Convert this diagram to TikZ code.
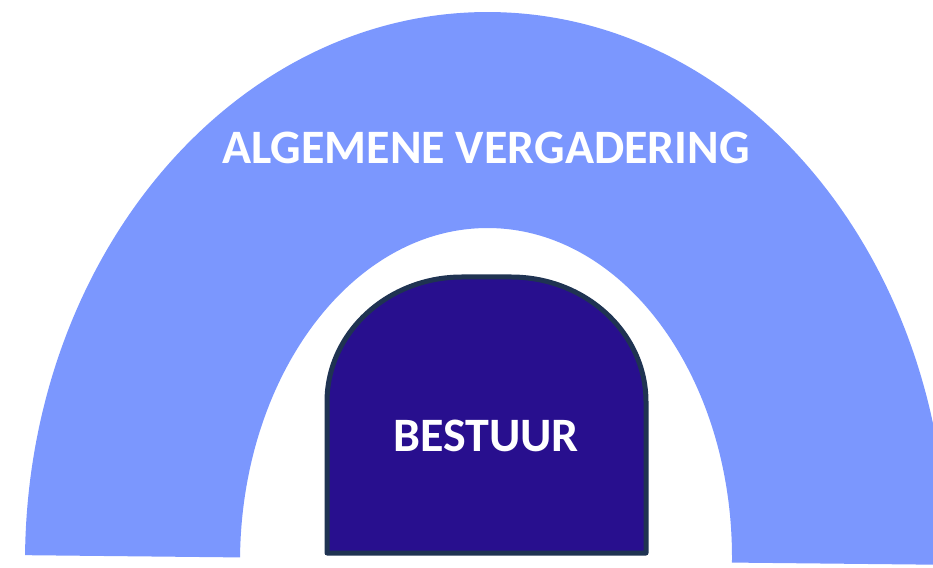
\documentclass[tikz,border=0pt]{standalone}
\usepackage{fontspec}
\setmainfont{Carlito}
\definecolor{avblue}{HTML}{7B97FE}
\definecolor{bpurple}{HTML}{280F8E}
\definecolor{bborder}{HTML}{1F3352}
\tikzset{
  lbl/.style={text=white, font=\fontsize{48}{52}\selectfont\bfseries, inner sep=0pt, anchor=base},
}
\begin{document}
\begin{tikzpicture}[x=1pt,y=1pt]
\useasboundingbox (0,0) rectangle (933,567);
\clip (0,0) rectangle (933,567);
\coordinate (c) at (486,7);
% block arc
\fill[avblue, rotate around={-0.6:(c)}]
  (25,7) arc[start angle=180, end angle=0, x radius=461, y radius=548]
  -- (732,7) arc[start angle=0, end angle=180, x radius=246, y radius=332]
  -- cycle;
% bestuur shape
\filldraw[fill=bpurple, draw=bborder, line width=5pt, line join=round]
  (327,14) -- (327,165)
  arc[start angle=180, end angle=90, x radius=135, y radius=125]
  -- (511,290)
  arc[start angle=90, end angle=0, x radius=135, y radius=125]
  -- (646,14) -- cycle;
\node[lbl] (av) at (486,403) {ALGEMENE VERGADERING};
\node[lbl] (bestuur) at (486,115) {BESTUUR};
\end{tikzpicture}
\end{document}
